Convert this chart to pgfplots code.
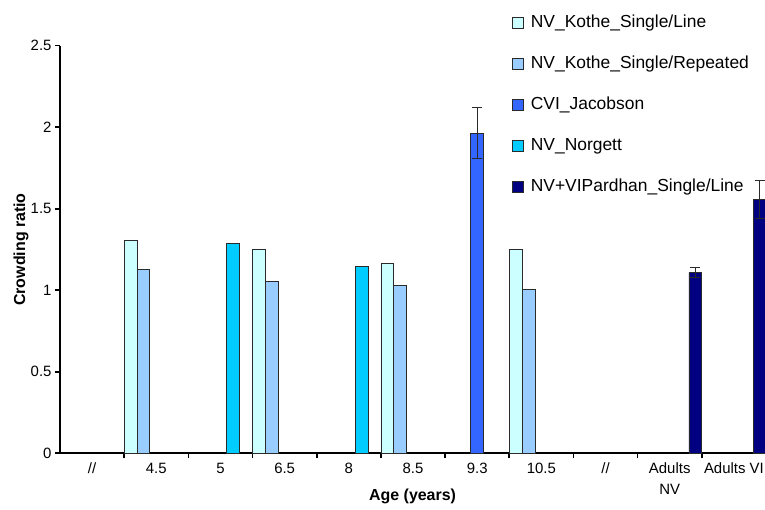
\documentclass[border=0pt]{standalone}
\usepackage{fontspec}
\setmainfont{Liberation Sans}
\usepackage{pgfplots}
\pgfplotsset{compat=1.18}
\definecolor{cSL}{HTML}{CCFFFF}
\definecolor{cSR}{HTML}{99CCFF}
\definecolor{cJac}{HTML}{3366FF}
\definecolor{cNor}{HTML}{00CCFF}
\definecolor{cPar}{HTML}{000080}
\definecolor{edge}{HTML}{2A2A2A}
\begin{document}
\begin{tikzpicture}
\path[use as bounding box] (0,0) rectangle (765bp,510bp);
\clip (0,0) rectangle (765bp,510bp);
\begin{axis}[
 at={(60bp,56.7bp)}, anchor=south west,
 scale only axis, width=706bp, height=407.6bp,
 xmin=-0.5, xmax=10.5, ymin=0, ymax=2.5,
 axis x line=bottom, axis y line=left,
 axis line style={-, line width=1.8bp, black},
 ytick={0,0.5,1,1.5,2,2.5},
 xtick={0,...,10},
 xticklabels={//,4.5,5,6.5,8,8.5,9.3,10.5,//,Adults\\NV,Adults VI},
 x tick label style={align=center, font=\fontsize{15}{21}\selectfont, yshift=-1bp},
 y tick label style={font=\fontsize{15}{15}\selectfont},
 major x tick style={draw=none},
 minor xtick={0.5,1.5,...,9.5},
 tick align=outside,
 tick style={line width=1.6bp, black},
 major tick length=5bp, minor tick length=5bp,
 /pgf/number format/assume math mode=true,
 xlabel={Age (years)},
 ylabel={Crowding ratio},
 xlabel style={font=\bfseries\fontsize{16}{16}\selectfont, at={(axis description cs:0.4994,0)}, anchor=center, yshift=-42.7bp},
 ylabel style={font=\bfseries\fontsize{16}{16}\selectfont, at={(axis description cs:-0.0552,0.5)}, anchor=center, rotate=0},
 ybar, bar width=0.2,
 legend style={at={(axis description cs:0.640,1.078)}, anchor=north west, draw=none, fill=none,
   font=\fontsize{17.5}{17.5}\selectfont, row sep=24bp, inner sep=0pt,
   nodes={inner sep=0pt, text height=13bp, text depth=4bp},
   /tikz/every odd column/.append style={column sep=7bp}},
 legend cell align=left,
 legend image code/.code={\draw[#1, line width=0.8bp] (0bp,-5.5bp) rectangle (11bp,5.5bp);},
 error bars/y dir=both, error bars/y explicit,
 error bars/error bar style={draw=edge, line width=1.1bp},
 error bars/error mark options={draw=edge, rotate=90, mark size=5bp, line width=1.1bp},
]
\addplot[fill=cSL, draw=edge, line width=0.8bp, bar shift=-0.4] coordinates {(1,1.304) (3,1.253) (5,1.163) (7,1.253)};
\addplot[fill=cSR, draw=edge, line width=0.8bp, bar shift=-0.2] coordinates {(1,1.129) (3,1.055) (5,1.028) (7,1.004)};
\addplot[fill=cJac, draw=edge, line width=0.8bp, bar shift=0] coordinates {(6,1.963) +- (0,0.157)};
\addplot[fill=cNor, draw=edge, line width=0.8bp, bar shift=0.2] coordinates {(2,1.288) (4,1.145)};
\addplot[fill=cPar, draw=edge, line width=0.8bp, bar shift=0.4] coordinates {(9,1.108) +- (0,0.03) (10,1.558) +- (0,0.117)};
\legend{NV\_Kothe\_Single/Line, NV\_Kothe\_Single/Repeated, CVI\_Jacobson, NV\_Norgett, NV+VIPardhan\_Single/Line}
\end{axis}
\end{tikzpicture}
\end{document}
